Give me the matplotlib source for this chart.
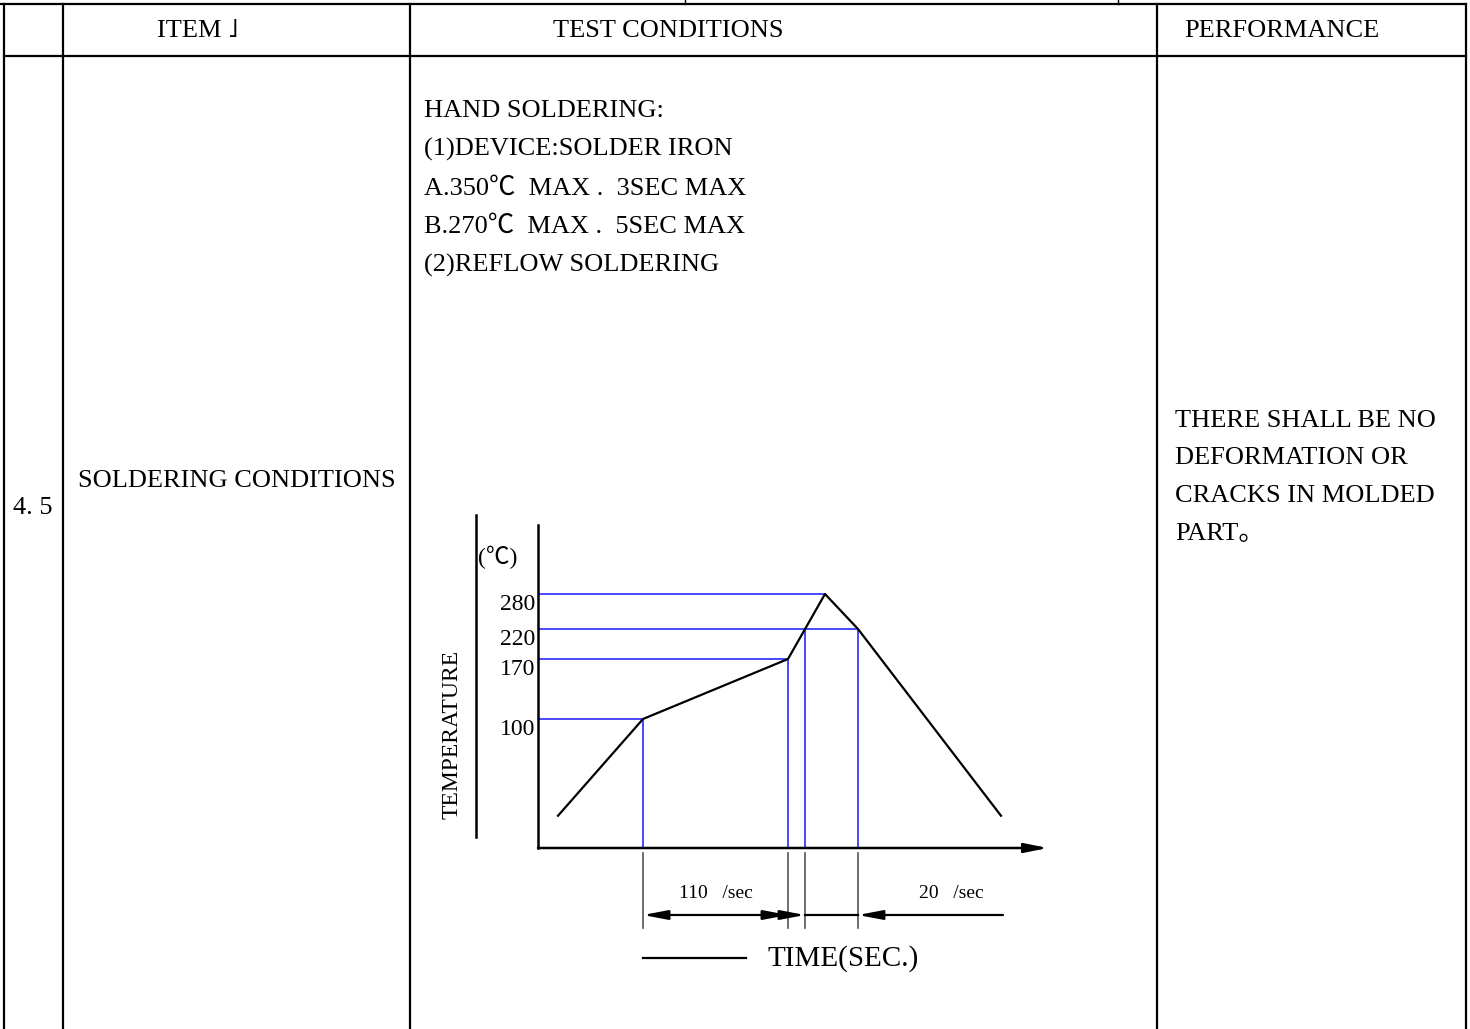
import numpy as np
import matplotlib
matplotlib.use("Agg")
import matplotlib.pyplot as plt
from matplotlib.transforms import blended_transform_factory

plt.rcParams.update({
    "font.family": ["Liberation Serif", "Noto Sans CJK SC", "DejaVu Sans"],
    "font.size": 19,
})
SERIF = "Liberation Serif"

# table text
headers = ["ITEM ˩", "TEST CONDITIONS", "PERFORMANCE"]
item_no = "4. 5"
item_name = "SOLDERING CONDITIONS"
conditions = [
    "HAND SOLDERING:",
    "(1)DEVICE:SOLDER IRON",
    "A.350℃  MAX .  3SEC MAX",
    "B.270℃  MAX .  5SEC MAX",
    "(2)REFLOW SOLDERING",
]
performance = ["THERE SHALL BE NO", "DEFORMATION OR", "CRACKS IN MOLDED", "PART。"]

# reflow profile (schematic time units, temperature in deg C)
profile_t = [20, 105, 250, 287, 320, 463]
profile_T = [25, 100, 170, 280, 220, 25]
level_T = [280, 220, 170, 100]
level_end_t = [287, 320, 250, 105]
mark_t = [105, 250, 267, 320]
mark_T = [100, 170, 220, 220]
rate_labels = ["110   /sec", "20   /sec"]

# schematic (non-linear) temperature scale of the drawing
_sT = [0, 100, 170, 220, 280, 400]
_sH = [0, 129, 189, 219, 254, 324]
def fwd(v):
    return np.interp(v, _sT, _sH)
def inv(v):
    return np.interp(v, _sH, _sT)

def fam(s):
    # plain ascii text stays in the serif face, the rest may need the fallback list
    return SERIF if s.isascii() else plt.rcParams["font.family"]

W, H = 1470, 1029
fig = plt.figure(figsize=(W / 100, H / 100), dpi=100)
base = fig.add_axes([0, 0, 1, 1])
base.set_xlim(0, W)
base.set_ylim(H, 0)
base.axis("off")

lw = 1.6
# table grid
base.plot([0, 1466], [4, 4], color="black", lw=lw)
base.plot([4, 1466], [56, 56], color="black", lw=lw)
for x in [4, 63, 410, 1157, 1466]:
    base.plot([x, x], [4, H], color="black", lw=lw)
for x in [685, 1118]:
    base.plot([x, x], [0, 4], color="black", lw=1.0)

for x, s in zip([157, 553, 1184], headers):
    base.text(x, 31, s, va="center", ha="left", family=fam(s))

base.text(13, 508, item_no, va="center", ha="left", family=SERIF)
base.text(78, 481, item_name, va="center", ha="left", family=SERIF)

for i, s in enumerate(conditions):
    base.text(424, 111 + i * 38.7, s, va="center", ha="left", family=fam(s))
for i, s in enumerate(performance):
    base.text(1175, 421 + i * 37.5, s, va="center", ha="left", family=fam(s))

# chart
ax = fig.add_axes([538 / W, (H - 848) / H, (1048 - 538) / W, (848 - 525) / H])
ax.set_yscale("function", functions=(fwd, inv))
ax.set_xlim(0, 510)
ax.set_ylim(0, inv(323))
ax.patch.set_alpha(0)
for sp in ["top", "right", "bottom"]:
    ax.spines[sp].set_visible(False)
ax.spines["left"].set_linewidth(1.8)
ax.set_xticks([])
ax.set_yticks(level_T, [str(v) for v in level_T])
ax.tick_params(axis="y", length=0, pad=2, labelsize=17)
for lab in ax.get_yticklabels():
    lab.set_va("top")
    lab.set_family(SERIF)
ax.annotate("", xy=(1, 0), xytext=(0, 0), xycoords="axes fraction",
            arrowprops=dict(arrowstyle="-|>,head_length=1.0,head_width=0.2",
                            color="black", lw=1.8, shrinkA=0, shrinkB=0,
                            mutation_scale=14))

blue = "#2a2aff"
for T, t in zip(level_T, level_end_t):
    ax.plot([0, t], [T, T], color=blue, lw=1.2)
for t, T in zip(mark_t, mark_T):
    ax.plot([t, t], [0, T], color=blue, lw=1.2)
ax.plot(profile_t, profile_T, color="black", lw=1.6)

# dimension lines below the time axis
bt = blended_transform_factory(ax.transData, base.transData)
for t in mark_t:
    base.plot([t, t], [853, 928], color="#555555", lw=1.2, transform=bt)
arr = dict(color="black", lw=1.6, shrinkA=0, shrinkB=0, mutation_scale=14)
hs = "head_length=1.05,head_width=0.2"
base.annotate("", xy=(mark_t[1], 915), xytext=(mark_t[0], 915), xycoords=bt, textcoords=bt,
              arrowprops=dict(arrowstyle="<|-|>," + hs, **arr))
base.annotate("", xy=(mark_t[2], 915), xytext=(mark_t[1], 915), xycoords=bt, textcoords=bt,
              arrowprops=dict(arrowstyle="-|>," + hs, **arr))
base.plot([mark_t[2], mark_t[3]], [915, 915], color="black", lw=1.6, transform=bt)
base.annotate("", xy=(mark_t[3], 915), xytext=(465, 915), xycoords=bt, textcoords=bt,
              arrowprops=dict(arrowstyle="-|>," + hs, **arr))
base.text((mark_t[0] + mark_t[1]) / 2, 893, rate_labels[0], transform=bt,
          ha="center", va="center", fontsize=14, family=SERIF)
base.text(413, 893, rate_labels[1], transform=bt, ha="center", va="center",
          fontsize=14, family=SERIF)

base.plot([643, 746], [958, 958], color="black", lw=1.6)
base.text(768, 959, "TIME(SEC.)", va="center", ha="left", fontsize=21, family=SERIF)

# temperature label block
base.plot([476, 476], [515, 837], color="black", lw=1.8)
base.text(478, 557, "(℃)", va="center", ha="left", fontsize=17, family=fam("(℃)"))
base.text(452, 734, "TEMPERATURE", rotation=90, va="center", ha="center",
          fontsize=17, family=SERIF)

fig.savefig("out.png", dpi=100)
